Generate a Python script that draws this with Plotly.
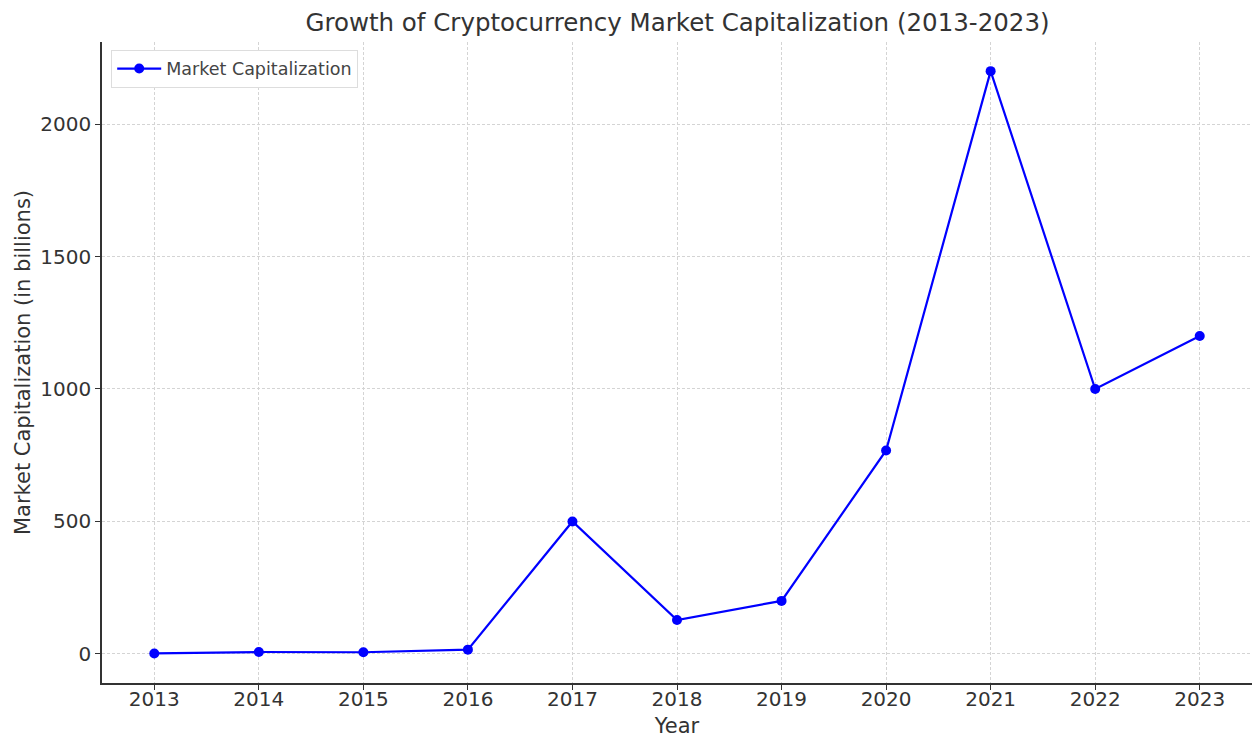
import plotly.graph_objects as go

years = [2013, 2014, 2015, 2016, 2017, 2018, 2019, 2020, 2021, 2022, 2023]
market_cap = [1.5, 7, 6, 16, 500, 128, 200, 768, 2200, 1000, 1200]
y_ticks = [0, 500, 1000, 1500, 2000]

fig = go.Figure()
fig.add_trace(go.Scatter(
    x=years, y=market_cap, mode="lines+markers", name="Market Capitalization",
    line=dict(color="#0000ff", width=2.2), marker=dict(color="#0000ff", size=10),
))

font = "DejaVu Sans, sans-serif"
fig.update_layout(
    width=1260, height=738,
    margin=dict(l=102, r=8, t=42, b=55, autoexpand=False),
    paper_bgcolor="white", plot_bgcolor="white",
    font=dict(family=font, color="#333333", size=20),
    title=dict(text="Growth of Cryptocurrency Market Capitalization (2013-2023)",
               x=0.5377, xanchor="center", y=0.97, yanchor="middle",
               font=dict(size=24.5, color="#333333", family=font)),
    showlegend=True,
    legend=dict(x=0.008, y=0.988, xanchor="left", yanchor="top",
                bgcolor="white", bordercolor="#dddddd", borderwidth=1,
                itemwidth=44, tracegroupgap=0,
                font=dict(size=17.5, color="#444444")),
    xaxis=dict(range=[2012.5, 2023.5], tickvals=years, ticktext=[str(y) for y in years],
               automargin=False, ticklabelstandoff=-8,
               showgrid=True, gridcolor="#d4d4d4", griddash="3px,2px", gridwidth=1,
               showline=True, linecolor="#333333", linewidth=1.5,
               ticks="outside", ticklen=5, tickcolor="#333333",
               title=dict(text="Year", standoff=10, font=dict(size=21)),
               zeroline=False, mirror=False),
    yaxis=dict(range=[-110, 2310], tickvals=y_ticks,
               automargin=False,
               showgrid=True, gridcolor="#d4d4d4", griddash="3px,2px", gridwidth=1,
               showline=True, linecolor="#333333", linewidth=1.5,
               ticks="outside", ticklen=5, tickcolor="#333333",
               title=dict(text="Market Capitalization (in billions)", standoff=4, font=dict(size=21)),
               zeroline=False, mirror=False),
)
fig.write_html("out.html")
